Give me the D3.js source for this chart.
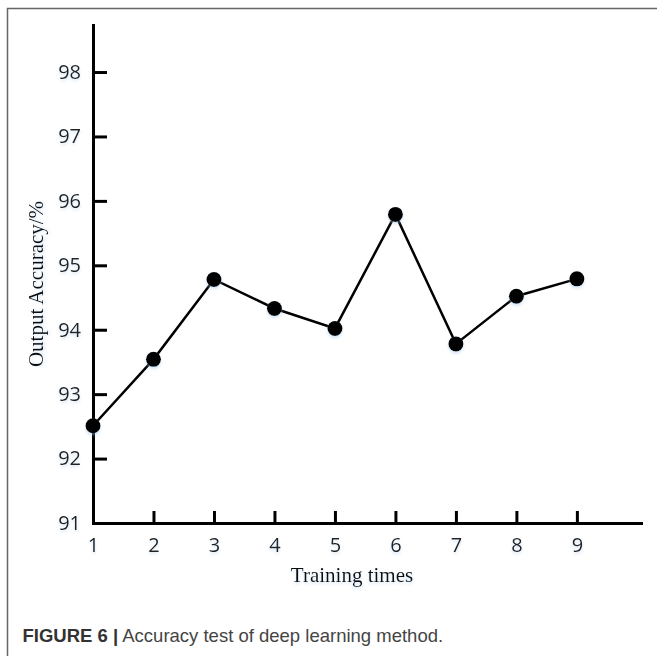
<!DOCTYPE html>
<html>
<head>
<meta charset="utf-8">
<script src="https://cdn.jsdelivr.net/npm/d3@7"></script>
<style>
  body { margin: 0; background: #fff; }
</style>
</head>
<body>
<div class="line-chart"></div>
<script>
// data
const trainingTimes = [1, 2, 3, 4, 5, 6, 7, 8, 9];
const accuracy = [92.51, 93.54, 94.78, 94.33, 94.02, 95.79, 93.78, 94.52, 94.79];
const yTicks = [91, 92, 93, 94, 95, 96, 97, 98];

const W = 657, H = 656;
const margin = { top: 25, right: 16, bottom: 133, left: 93 };
const width = W - margin.left - margin.right;
const height = H - margin.top - margin.bottom;

const root = d3.select('.line-chart')
    .append('svg')
    .attr('width', W)
    .attr('height', H);

// frame of the figure
root.append('path')
    .attr('d', 'M7.5,656 L7.5,8.5 L657,8.5')
    .attr('fill', 'none')
    .attr('stroke', '#666')
    .attr('stroke-width', 1.5);

// faint glow under marks, like the original
const defs = root.append('defs');
const f = defs.append('filter').attr('id', 'glow')
    .attr('x', '-50%').attr('y', '-50%').attr('width', '200%').attr('height', '200%');
f.append('feDropShadow')
    .attr('dx', 0).attr('dy', 2).attr('stdDeviation', 1.5)
    .attr('flood-color', '#9cc3e6').attr('flood-opacity', 0.45);

const svg = root.append('g')
    .attr('transform', 'translate(' + margin.left + ',' + margin.top + ')');

const x = d3.scaleLinear()
    .domain([1, 10.06])
    .range([0, width]);

const y = d3.scaleLinear()
    .domain([91, 98.73])
    .range([height, 0]);

const xaxis = d3.axisBottom(x)
    .tickValues(trainingTimes)
    .tickFormat(d3.format('d'))
    .tickSizeInner(-12)
    .tickSizeOuter(0)
    .tickPadding(15);

const yaxis = d3.axisLeft(y)
    .tickValues(yTicks)
    .tickFormat(d3.format('d'))
    .tickSizeInner(-14)
    .tickSizeOuter(0)
    .tickPadding(12);

const gx = svg.append('g')
    .attr('class', 'x axis')
    .attr('transform', 'translate(0,' + height + ')')
    .call(xaxis);

const gy = svg.append('g')
    .attr('class', 'y axis')
    .call(yaxis);

[gx, gy].forEach(g => {
    g.selectAll('path, line')
        .attr('stroke', '#000')
        .attr('stroke-width', 3);
    g.selectAll('text')
        .attr('font-family', '"Open Sans", sans-serif')
        .attr('font-size', 20)
        .attr('fill', '#222')
        .attr('filter', 'url(#glow)');
});
gx.select('.domain').attr('stroke-linecap', 'square');
gy.select('.domain').attr('stroke-linecap', 'square');

// line + points
const line = d3.line()
    .x((d, i) => x(trainingTimes[i]))
    .y(d => y(d));

svg.append('path')
    .datum(accuracy)
    .attr('d', line)
    .attr('fill', 'none')
    .attr('stroke', '#000')
    .attr('stroke-width', 2.5);

svg.selectAll('.dot')
    .data(accuracy)
    .enter()
    .append('circle')
    .attr('class', 'dot')
    .attr('cx', (d, i) => x(trainingTimes[i]))
    .attr('cy', d => y(d))
    .attr('r', 7.5)
    .attr('fill', '#000')
    .attr('filter', 'url(#glow)');

// axis titles
root.append('text')
    .attr('transform', 'translate(43,284) rotate(-90)')
    .attr('text-anchor', 'middle')
    .attr('font-family', '"Liberation Serif", "Times New Roman", serif')
    .attr('font-size', 21)
    .attr('fill', '#111')
    .attr('filter', 'url(#glow)')
    .text('Output Accuracy/%');

root.append('text')
    .attr('x', 352)
    .attr('y', 581.5)
    .attr('text-anchor', 'middle')
    .attr('font-family', '"Liberation Serif", "Times New Roman", serif')
    .attr('font-size', 21)
    .attr('fill', '#111')
    .attr('filter', 'url(#glow)')
    .text('Training times');

// caption
const cap = root.append('text')
    .attr('x', 22.5)
    .attr('y', 641.5)
    .attr('font-family', '"Liberation Sans", Arial, sans-serif')
    .attr('font-size', 18.5);
cap.append('tspan')
    .attr('font-weight', 'bold')
    .attr('fill', '#333')
    .text('FIGURE 6 |');
cap.append('tspan')
    .attr('fill', '#444')
    .text(' Accuracy test of deep learning method.');
</script>
</body>
</html>
